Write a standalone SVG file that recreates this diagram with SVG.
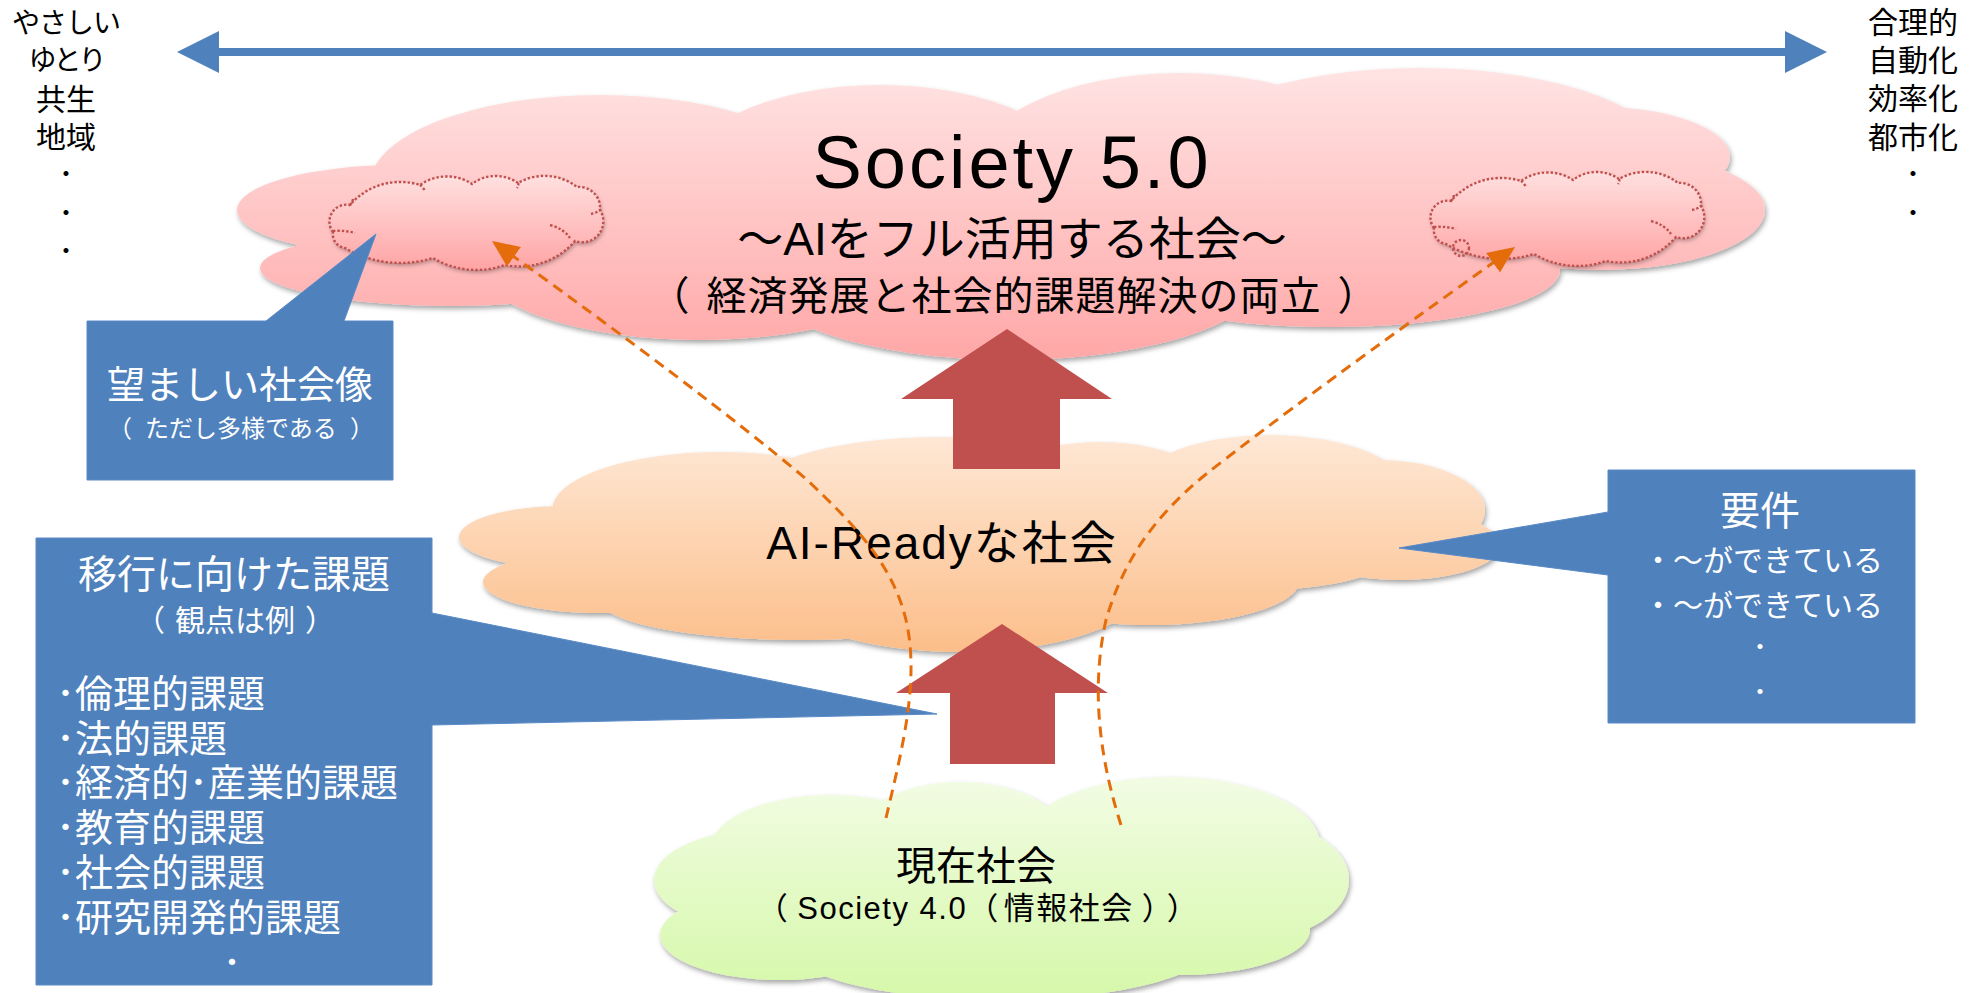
<svg xmlns="http://www.w3.org/2000/svg" xmlns:xlink="http://www.w3.org/1999/xlink" width="1976" height="993" viewBox="0 0 1976 993">
<defs>
<style>
.jp{font-family:'Noto Sans CJK JP',sans-serif;}
.mix{font-family:'Liberation Sans','Noto Sans CJK JP',sans-serif;}
.blk{fill:#000;}
.wht{fill:#fff;}
.mid{text-anchor:middle;}
.callout{fill:#4F81BD;stroke:#5A8AC6;stroke-width:1;}
.block{fill:#C0504D;}
.dash{fill:none;stroke:#E46C0A;stroke-width:3;stroke-dasharray:11 7;}
.dotline{fill:none;stroke:#C0504D;stroke-width:2.4;stroke-dasharray:2.4 2;}
</style>
<linearGradient id="pinkGrad" gradientUnits="userSpaceOnUse" x1="0" y1="66" x2="0" y2="365">
<stop offset="0" stop-color="#FFE4E4"/><stop offset="1" stop-color="#FFA6A6"/>
</linearGradient>
<linearGradient id="peachGrad" gradientUnits="userSpaceOnUse" x1="0" y1="435" x2="0" y2="652">
<stop offset="0" stop-color="#FEE8D6"/><stop offset="1" stop-color="#FCBE8A"/>
</linearGradient>
<linearGradient id="greenGrad" gradientUnits="userSpaceOnUse" x1="0" y1="777" x2="0" y2="995">
<stop offset="0" stop-color="#F2FCE4"/><stop offset="1" stop-color="#D6F8AA"/>
</linearGradient>
<linearGradient id="smallGrad" x1="0" y1="0" x2="0" y2="1">
<stop offset="0" stop-color="#FFE0E0"/><stop offset="1" stop-color="#FFA4A4"/>
</linearGradient>
<filter id="shadow" x="-5%" y="-10%" width="110%" height="125%">
<feDropShadow dx="1.5" dy="3" stdDeviation="2.5" flood-color="#000" flood-opacity="0.35"/>
</filter>
<filter id="shadowS" x="-5%" y="-10%" width="110%" height="130%">
<feDropShadow dx="1" dy="2.5" stdDeviation="2" flood-color="#000" flood-opacity="0.3"/>
</filter>
<marker id="orangeHead" markerUnits="userSpaceOnUse" markerWidth="28" markerHeight="26" viewBox="0 0 28 26" refX="27" refY="12" orient="auto">
<path d="M0,0 L27,12 L0,24 Z" fill="#E46C0A"/>
</marker>
<g id="smallCloud">
<path fill="url(#smallGrad)" filter="url(#shadowS)" d="M333,232 A17,17 0 0 1 350,205 A66,66 0 0 1 420,185 A46,46 0 0 1 472,184 A39,39 0 0 1 518,183 A53,53 0 0 1 577,187 A21,21 0 0 1 600,210 A21,21 0 0 1 575,241 A73,73 0 0 1 505,265 A85,85 0 0 1 433,258 A110,110 0 0 1 345,248 A14,14 0 0 1 333,232 Z"/>
<path class="dotline" d="M333,232 A17,17 0 0 1 350,205 A66,66 0 0 1 420,185 A46,46 0 0 1 472,184 A39,39 0 0 1 518,183 A53,53 0 0 1 577,187 A21,21 0 0 1 600,210 A21,21 0 0 1 575,241 A73,73 0 0 1 505,265 A85,85 0 0 1 433,258 A110,110 0 0 1 345,248 A14,14 0 0 1 333,232 Z"/>
<path class="dotline" d="M333,231 q11,-1 22,2 M550,225 q14,4 20,13 M591,214 q6,-1 10,-5 M420,185 q3,2 5,6 M518,183 q1,2 -1,5 M350,205 q3,-3 3,-7"/>
</g>
</defs>
<rect width="1976" height="993" fill="#fff"/>

<g id="node-society5">
<g fill="url(#pinkGrad)" filter="url(#shadow)">
<ellipse cx="600" cy="185" rx="230" ry="90"/>
<ellipse cx="880" cy="180" rx="200" ry="95"/>
<ellipse cx="1180" cy="175" rx="210" ry="102"/>
<ellipse cx="1420" cy="162" rx="250" ry="94"/>
<ellipse cx="1600" cy="157" rx="130" ry="50"/>
<ellipse cx="1600" cy="210" rx="165" ry="60"/>
<ellipse cx="1330" cy="270" rx="230" ry="57"/>
<ellipse cx="1010" cy="270" rx="260" ry="90"/>
<ellipse cx="700" cy="265" rx="220" ry="75"/>
<ellipse cx="400" cy="210" rx="163" ry="45"/>
<ellipse cx="450" cy="268" rx="190" ry="38"/>
</g>
<text class="mix blk mid" x="1012" y="188" font-size="74" letter-spacing="3">Society 5.0</text>
<text class="mix blk mid" x="1012" y="255" font-size="46">～AIをフル活用する社会～</text>
<text class="jp blk mid" x="1014" y="310" font-size="40" letter-spacing="1">（<tspan dx="16">経済発展と社会的課題解決の両立</tspan><tspan dx="16">）</tspan></text>
</g>

<g id="node-ideal-left">
<use xlink:href="#smallCloud"/>
</g>
<g id="node-ideal-right">
<use xlink:href="#smallCloud" transform="translate(1101,-4)"/>
<circle cx="1461" cy="248" r="8" fill="#FFB4B4" class="dotline"/>
</g>

<g id="node-ai-ready">
<g fill="url(#peachGrad)" filter="url(#shadow)">
<ellipse cx="565" cy="537" rx="106" ry="31"/>
<ellipse cx="600" cy="582" rx="117" ry="31"/>
<ellipse cx="720" cy="510" rx="168" ry="58"/>
<ellipse cx="940" cy="500" rx="200" ry="63"/>
<ellipse cx="1100" cy="510" rx="130" ry="68"/>
<ellipse cx="1270" cy="495" rx="140" ry="60"/>
<ellipse cx="1380" cy="510" rx="105" ry="50"/>
<ellipse cx="1400" cy="545" rx="100" ry="35"/>
<ellipse cx="1260" cy="555" rx="130" ry="35"/>
<ellipse cx="1150" cy="580" rx="150" ry="45"/>
<ellipse cx="960" cy="590" rx="180" ry="62"/>
<ellipse cx="800" cy="600" rx="200" ry="40"/>
</g>
<text class="mix blk mid" x="942" y="559" font-size="46" letter-spacing="2">AI-Readyな社会</text>
</g>

<g id="node-current">
<g fill="url(#greenGrad)" filter="url(#shadow)">
<ellipse cx="760" cy="880" rx="106" ry="50"/>
<ellipse cx="830" cy="850" rx="120" ry="55"/>
<ellipse cx="960" cy="845" rx="110" ry="63"/>
<ellipse cx="1170" cy="845" rx="150" ry="68"/>
<ellipse cx="1250" cy="880" rx="99" ry="60"/>
<ellipse cx="1180" cy="930" rx="130" ry="45"/>
<ellipse cx="1000" cy="940" rx="220" ry="60"/>
<ellipse cx="780" cy="935" rx="120" ry="45"/>
</g>
<text class="jp blk mid" x="976" y="880" font-size="40">現在社会</text>
<text class="mix blk mid" x="978" y="919" font-size="31" letter-spacing="1.5">（<tspan dx="8">Society 4.0</tspan>（<tspan dx="4">情報社会</tspan><tspan dx="8">）</tspan><tspan dx="8">）</tspan></text>
</g>

<g id="node-left-labels">
<text class="jp blk mid" x="66" y="33" font-size="28" letter-spacing="-1">やさしい</text>
<text class="jp blk mid" x="66" y="70" font-size="28" letter-spacing="-3">ゆとり</text>
<text class="jp blk mid" x="66" y="110" font-size="30">共生</text>
<text class="jp blk mid" x="66" y="148" font-size="30">地域</text>
<text class="jp blk mid" x="66" y="185" font-size="30">･</text>
<text class="jp blk mid" x="66" y="224" font-size="30">･</text>
<text class="jp blk mid" x="66" y="262" font-size="30">･</text>
</g>

<g id="node-right-labels">
<text class="jp blk mid" x="1913" y="33" font-size="30">合理的</text>
<text class="jp blk mid" x="1913" y="71" font-size="30">自動化</text>
<text class="jp blk mid" x="1913" y="109" font-size="30">効率化</text>
<text class="jp blk mid" x="1913" y="148" font-size="30">都市化</text>
<text class="jp blk mid" x="1913" y="185" font-size="30">･</text>
<text class="jp blk mid" x="1913" y="224" font-size="30">･</text>
</g>

<g id="node-callout-ideal">
<path class="callout" d="M87,321 L266,321 L376,234 L344,321 L393,321 L393,480 L87,480 Z"/>
<text class="jp wht mid" x="240" y="398" font-size="38">望ましい社会像</text>
<text class="jp wht mid" x="241" y="437" font-size="24">（<tspan dx="13">ただし多様である</tspan><tspan dx="13">）</tspan></text>
</g>

<g id="node-callout-issues">
<path class="callout" d="M36,538 L432,538 L432,613 L937,714 L432,725 L432,985 L36,985 Z"/>
<text class="jp wht mid" x="234" y="588" font-size="39">移行に向けた課題</text>
<text class="jp wht mid" x="235" y="631" font-size="30">（<tspan dx="10">観点は例</tspan><tspan dx="10">）</tspan></text>
<text class="jp wht" x="56" y="707" font-size="38">･倫理的課題</text>
<text class="jp wht" x="56" y="752" font-size="38">･法的課題</text>
<text class="jp wht" x="56" y="796" font-size="38">･経済的･産業的課題</text>
<text class="jp wht" x="56" y="841" font-size="38">･教育的課題</text>
<text class="jp wht" x="56" y="886" font-size="38">･社会的課題</text>
<text class="jp wht" x="56" y="931" font-size="38">･研究開発的課題</text>
<text class="jp wht mid" x="232" y="976" font-size="38">･</text>
</g>

<g id="node-callout-requirements">
<path class="callout" d="M1608,470 L1915,470 L1915,723 L1608,723 L1608,575 L1399,548 L1608,512 Z"/>
<text class="jp wht mid" x="1760" y="525" font-size="40">要件</text>
<text class="jp wht mid" x="1763" y="571" font-size="30">・～ができている</text>
<text class="jp wht mid" x="1763" y="616" font-size="30">・～ができている</text>
<text class="jp wht mid" x="1760" y="658" font-size="30">･</text>
<text class="jp wht mid" x="1760" y="703" font-size="30">･</text>
</g>

<g id="connectors">
<path id="axis-arrow" fill="#4F81BD" d="M177,52 L219,31 L219,48 L1785,48 L1785,31 L1827,52 L1785,73 L1785,56 L219,56 L219,73 Z"/>
<path id="up-arrow-upper" class="block" d="M1007,329 L1112,399 L1060,399 L1060,469 L953,469 L953,399 L901,399 Z"/>
<path id="up-arrow-lower" class="block" d="M1002,624 L1108,693 L1055,693 L1055,764 L950,764 L950,693 L896,693 Z"/>
<path id="dash-left" class="dash" marker-end="url(#orangeHead)" d="M886,818 C902,750 920,680 906,620 C893,565 855,525 805,478 Q700,390 492,241"/>
<path id="dash-right" class="dash" marker-end="url(#orangeHead)" d="M1121,825 C1105,775 1088,700 1106,620 C1122,565 1150,520 1205,475 Q1300,400 1515,247"/>
</g>
</svg>
